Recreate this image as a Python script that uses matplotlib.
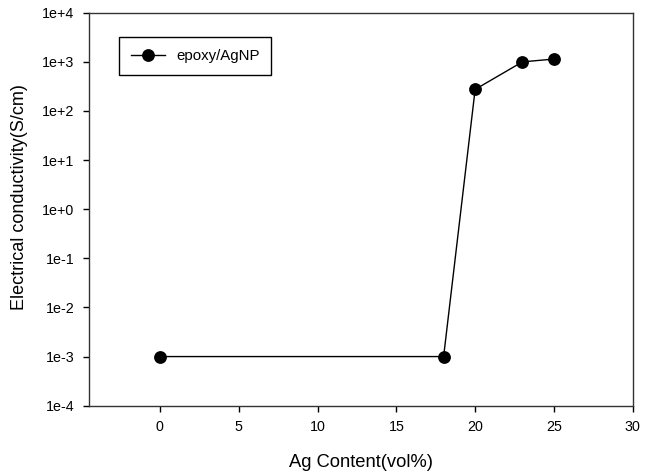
import math
import matplotlib
matplotlib.use("Agg")
import matplotlib.pyplot as plt
from matplotlib.ticker import FixedLocator, FuncFormatter, NullLocator

plt.rcParams['font.family'] = ['Liberation Sans', 'DejaVu Sans']

# Ag content (vol%) vs. conductivity (S/cm)
ag_content = [0, 18, 20, 23, 25]
conductivity = [1e-3, 1e-3, 275, 1000, 1140]
series_name = "epoxy/AgNP"

y_ticks = [10.0 ** p for p in range(-4, 5)]
x_ticks = [0, 5, 10, 15, 20, 25, 30]

fig = plt.figure(figsize=(6.45, 4.72), dpi=100)
ax = fig.add_axes([0.138, 0.1405, 0.843, 0.8325])

ax.plot(ag_content, conductivity, color='black', lw=1.0,
        marker='o', markersize=8.2, label=series_name)

ax.set_yscale('log')
ax.set_ylim(1e-4, 1e4)
ax.set_xlim(-4.5, 30)

ax.yaxis.set_major_locator(FixedLocator(y_ticks))
ax.yaxis.set_minor_locator(NullLocator())
ax.yaxis.set_major_formatter(FuncFormatter(lambda v, pos: "1e%+d" % round(math.log10(v))))
ax.set_xticks(x_ticks)

ax.tick_params(direction='out', length=4.5, width=1, labelsize=10.3, pad=6,
               top=False, right=False)
for s in ax.spines.values():
    s.set_linewidth(1.0)
    s.set_color('#333333')

ax.set_xlabel("Ag Content(vol%)", fontsize=13.2, labelpad=14)
ax.set_ylabel("Electrical conductivity(S/cm)", fontsize=13)
ax.yaxis.set_label_coords(-0.113, 0.53)

leg = ax.legend(loc='upper left', bbox_to_anchor=(0.055, 0.938), borderaxespad=0,
                fancybox=False, edgecolor='black', framealpha=1,
                fontsize=10.8, handlelength=2.3, borderpad=0.8, handletextpad=0.7)
leg.get_frame().set_linewidth(1.0)

fig.savefig("out.png", dpi=100)
